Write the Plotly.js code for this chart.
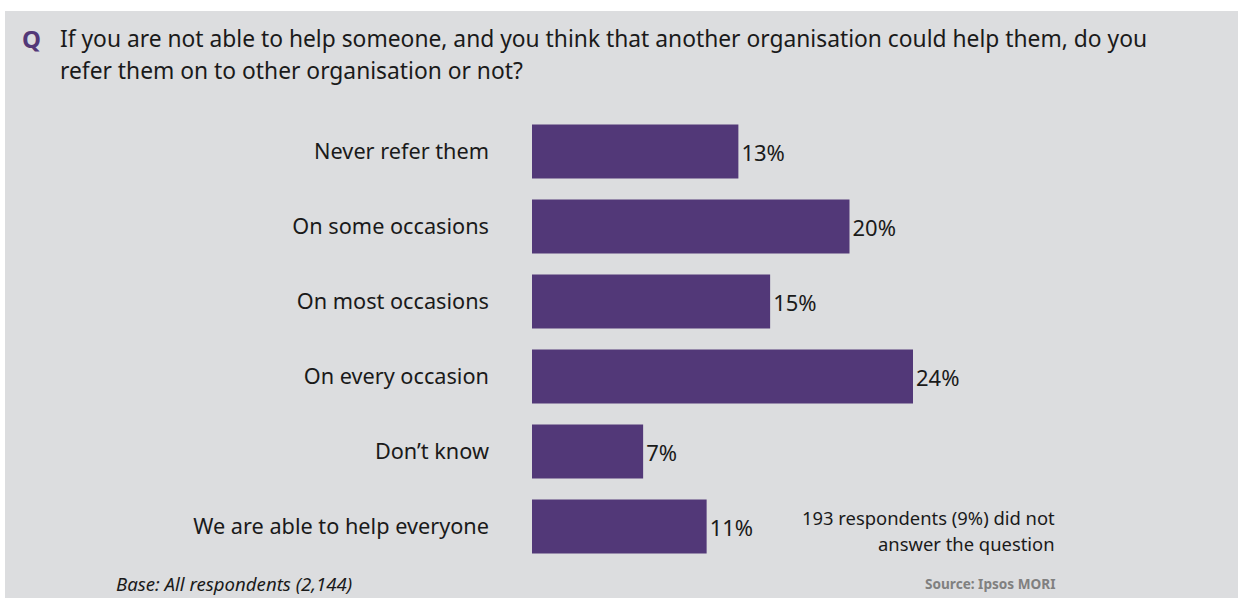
<!DOCTYPE html>
<html>
<head>
<meta charset="utf-8">
<script src="https://cdn.plot.ly/plotly-3.0.1.min.js"></script>
<style>html,body{margin:0;padding:0;background:#fff;}</style>
</head>
<body>
<div id="chart" style="width:1243px;height:598px;"></div>
<script>
// ---- data ----
const categories = ["Never refer them", "On some occasions", "On most occasions", "On every occasion", "Don\u2019t know", "We are able to help everyone"];
const values = [13, 20, 15, 24, 7, 11];
const valueLabels = values.map(v => v + "%");
const questionLines = ["If you are not able to help someone, and you think that another organisation could help them, do you", "refer them on to other organisation or not?"];
const noteLines = ["193 respondents (9%) did not", "answer the question"];
const baseText = "Base: All respondents (2,144)";
const sourceText = "Source: Ipsos MORI";

// ---- layout helpers ----
const W = 1243, H = 598;
const M = {l: 532, r: 76, t: 114, b: 34};
const PW = W - M.l - M.r, PH = H - M.t - M.b;
const px = x => (x - M.l) / PW;
const py = y => (H - M.b - y) / PH;

const purple = "#523878";
const grey = "#dcdddf";
const textFont = "'Noto Sans', 'Open Sans', sans-serif";

const trace = {
  type: "bar",
  orientation: "h",
  y: categories,
  x: values,
  text: valueLabels,
  textposition: "outside",
  cliponaxis: false,
  textfont: {family: textFont, size: 22, color: "#1a1a1a"},
  marker: {color: purple},
  width: 0.72,
  hoverinfo: "none"
};

const layout = {
  width: W, height: H,
  margin: M,
  paper_bgcolor: "#ffffff",
  plot_bgcolor: "rgba(0,0,0,0)",
  showlegend: false,
  xaxis: {range: [0, 40], visible: false, fixedrange: true},
  yaxis: {
    type: "category",
    categoryorder: "array",
    categoryarray: categories,
    autorange: "reversed",
    showgrid: false, zeroline: false, showline: false, ticks: "",
    ticklabelstandoff: 42,
    tickfont: {family: textFont, size: 21.7, color: "#1a1a1a"}
  },
  shapes: [{
    type: "rect", xref: "paper", yref: "paper", layer: "below",
    x0: px(5), x1: px(1238), y0: py(598), y1: py(11),
    fillcolor: grey, line: {width: 0}
  }],
  annotations: [
    {xref: "paper", yref: "paper", x: px(20), y: py(39), xanchor: "left", yanchor: "middle",
     text: "<b>Q</b>", showarrow: false, font: {family: textFont, size: 24, color: purple}},
    {xref: "paper", yref: "paper", x: px(58), y: py(38), xanchor: "left", yanchor: "middle",
     text: questionLines[0], showarrow: false, font: {family: textFont, size: 22.8, color: "#1a1a1a"}},
    {xref: "paper", yref: "paper", x: px(58), y: py(70), xanchor: "left", yanchor: "middle",
     text: questionLines[1], showarrow: false, font: {family: textFont, size: 22.8, color: "#1a1a1a"}},
    {xref: "paper", yref: "paper", x: px(1057), y: py(517), xanchor: "right", yanchor: "middle",
     text: noteLines[0], showarrow: false, font: {family: textFont, size: 18.4, color: "#1a1a1a"}},
    {xref: "paper", yref: "paper", x: px(1057), y: py(543), xanchor: "right", yanchor: "middle",
     text: noteLines[1], showarrow: false, font: {family: textFont, size: 18.4, color: "#1a1a1a"}},
    {xref: "paper", yref: "paper", x: px(114), y: py(583), xanchor: "left", yanchor: "middle",
     text: "<i>" + baseText + "</i>", showarrow: false, font: {family: textFont, size: 18.6, color: "#1a1a1a"}},
    {xref: "paper", yref: "paper", x: px(1057), y: py(583), xanchor: "right", yanchor: "middle",
     text: "<b>" + sourceText + "</b>", showarrow: false, font: {family: textFont, size: 13.6, color: "#808080"}}
  ]
};

Plotly.newPlot("chart", [trace], layout, {displayModeBar: false, staticPlot: true});
</script>
</body>
</html>
